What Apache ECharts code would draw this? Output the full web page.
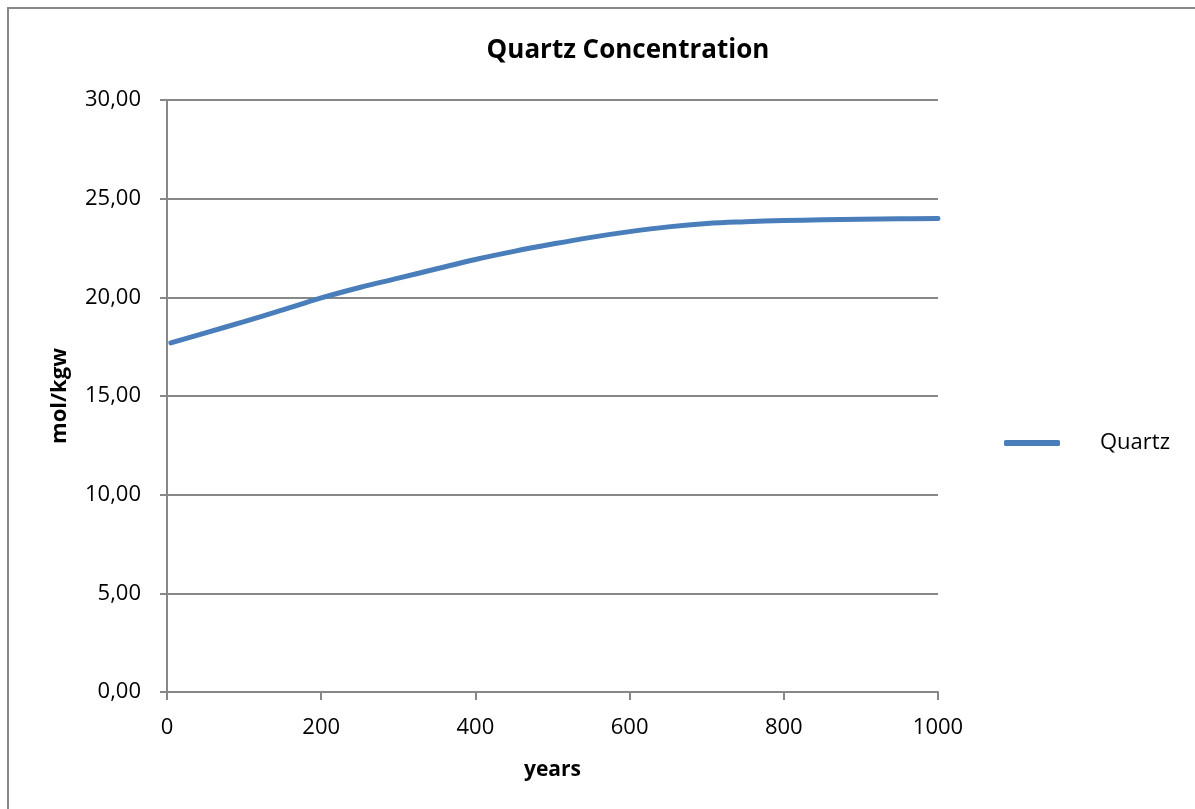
<!DOCTYPE html>
<html>
<head>
<meta charset="utf-8">
<title>Quartz Concentration</title>
<script src="https://cdn.jsdelivr.net/npm/echarts@6/dist/echarts.min.js"></script>
<style>
  html, body { margin: 0; padding: 0; background: #ffffff; }
  #chart { width: 1195px; height: 809px; }
</style>
</head>
<body>
<div id="chart"></div>
<script>
// Simulation output: quartz concentration over time
const seriesName = 'Quartz';
const years = [5, 50, 100, 150, 200, 250, 300, 350, 400, 450, 500, 550, 600, 650, 700, 750, 800, 850, 900, 950, 1000];
const quartz = [17.69, 18.20, 18.77, 19.36, 19.97, 20.50, 20.97, 21.45, 21.92, 22.33, 22.70, 23.04, 23.33, 23.57, 23.74, 23.83, 23.89, 23.93, 23.96, 23.98, 23.99];
const xTicks = { min: 0, max: 1000, interval: 200 };
const yTicks = { min: 0, max: 30, interval: 5 };

const FONT = '"Open Sans", Lato, sans-serif';
const GRAY = '#878787';

const chart = echarts.init(document.getElementById('chart'), null, { renderer: 'canvas' });

chart.setOption({
  backgroundColor: '#ffffff',
  animation: false,
  title: {
    text: 'Quartz Concentration',
    left: 623,
    top: 33,
    textAlign: 'center',
    textStyle: { fontFamily: FONT, fontWeight: 'bold', fontSize: 26, color: '#000000' }
  },
  legend: {
    data: [seriesName],
    left: 1004,
    top: 432,
    padding: 0,
    icon: 'roundRect',
    itemWidth: 56,
    itemHeight: 6,
    textStyle: { fontFamily: FONT, fontSize: 22, color: '#000000', padding: [0, 0, 0, 35] }
  },
  grid: { left: 167, right: 257, top: 100, bottom: 117, containLabel: false },
  xAxis: {
    type: 'value',
    min: xTicks.min,
    max: xTicks.max,
    interval: xTicks.interval,
    name: 'years',
    nameLocation: 'middle',
    nameGap: 68,
    nameTextStyle: { fontFamily: FONT, fontWeight: 'bold', fontSize: 21, color: '#000000' },
    axisLine: { show: true, onZero: false, lineStyle: { color: GRAY, width: 2 } },
    axisTick: { show: true, length: 8, lineStyle: { color: GRAY, width: 2 } },
    axisLabel: {
      margin: 25,
      fontFamily: FONT,
      fontSize: 22,
      color: '#000000',
      formatter: v => String(v)
    },
    splitLine: { show: false }
  },
  yAxis: {
    type: 'value',
    min: yTicks.min,
    max: yTicks.max,
    interval: yTicks.interval,
    name: 'mol/kgw',
    nameLocation: 'middle',
    nameRotate: 90,
    nameGap: 96,
    nameTextStyle: { fontFamily: FONT, fontWeight: 'bold', fontSize: 22, color: '#000000' },
    axisLine: { show: true, lineStyle: { color: GRAY, width: 2 } },
    axisTick: { show: true, length: 7, lineStyle: { color: GRAY, width: 2 } },
    axisLabel: {
      margin: 26,
      fontFamily: FONT,
      fontSize: 22,
      color: '#000000',
      formatter: v => v.toFixed(2).replace('.', ',')
    },
    splitLine: { show: true, lineStyle: { color: GRAY, width: 2 } }
  },
  series: [{
    name: seriesName,
    type: 'line',
    data: years.map((y, i) => [y, quartz[i]]),
    smooth: 0.4,
    symbol: 'none',
    itemStyle: { color: '#4a7ebb' },
    lineStyle: { color: '#4a7ebb', width: 5, cap: 'round' }
  }],
  // chart frame
  graphic: [{
    type: 'rect',
    shape: { x: 8, y: 8, width: 1400, height: 1000 },
    style: { fill: null, stroke: GRAY, lineWidth: 2 },
    silent: true,
    z: -1
  }]
});
</script>
</body>
</html>
